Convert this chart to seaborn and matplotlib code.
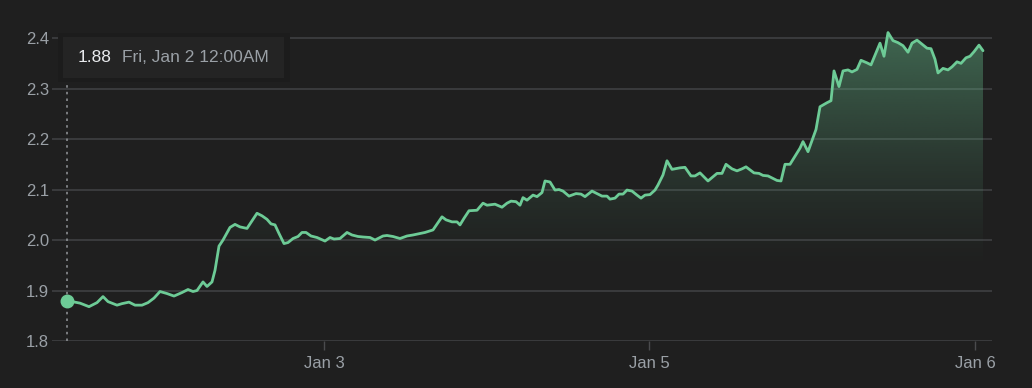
import numpy as np
import pandas as pd
import matplotlib
matplotlib.use("Agg")
import matplotlib.pyplot as plt
from matplotlib.patches import Rectangle
import seaborn as sns

# ---- data (x = sample position index along the session axis, y = price) ----
t_index = [0, 8, 13, 22, 30, 36, 41, 50, 55, 62, 68, 75, 81, 87, 93, 100, 107, 115, 121, 126, 130,
           136, 140, 145, 148, 152, 156, 163, 168, 173, 180, 190, 195, 200, 204, 208, 212, 217, 221,
           226, 231, 235, 239, 244, 250, 258, 263, 267, 273, 280, 285, 291, 296, 303, 308, 316, 320,
           326, 333, 340, 346, 353, 358, 363, 366, 375, 379, 385, 390, 393, 397, 402, 410, 416, 420,
           428, 435, 440, 444, 449, 453, 456, 460, 466, 470, 475, 478, 483, 488, 492, 496, 502, 509,
           514, 518, 525, 530, 535, 540, 543, 548, 552, 556, 560, 565, 570, 574, 578, 583, 588, 591,
           596, 600, 605, 610, 613, 618, 624, 628, 633, 641, 650, 655, 659, 665, 670, 675, 679, 683,
           687, 692, 696, 701, 706, 710, 714, 718, 723, 728, 733, 736, 741, 745, 749, 753, 760, 764,
           767, 772, 776, 781, 785, 790, 794, 800, 804, 813, 817, 821, 826, 831, 836, 841, 845, 850,
           855, 860, 864, 868, 871, 876, 881, 885, 890, 894, 899, 903, 907, 912, 916]
price = [1.880, 1.877, 1.875, 1.868, 1.876, 1.888, 1.878, 1.871, 1.874, 1.877, 1.871, 1.871, 1.876,
         1.885, 1.898, 1.894, 1.889, 1.896, 1.902, 1.898, 1.900, 1.917, 1.908, 1.917, 1.940, 1.988,
         2.000, 2.025, 2.031, 2.026, 2.023, 2.053, 2.048, 2.041, 2.032, 2.030, 2.013, 1.993, 1.995,
         2.003, 2.007, 2.015, 2.015, 2.008, 2.005, 1.998, 2.005, 2.002, 2.003, 2.015, 2.010, 2.007,
         2.006, 2.005, 2.000, 2.008, 2.009, 2.007, 2.003, 2.008, 2.010, 2.013, 2.015, 2.018, 2.020,
         2.046, 2.040, 2.036, 2.036, 2.030, 2.043, 2.058, 2.059, 2.073, 2.069, 2.071, 2.065, 2.073,
         2.077, 2.076, 2.069, 2.084, 2.079, 2.089, 2.086, 2.094, 2.117, 2.115, 2.099, 2.100, 2.097,
         2.087, 2.092, 2.091, 2.086, 2.097, 2.092, 2.087, 2.087, 2.081, 2.083, 2.091, 2.091, 2.099,
         2.097, 2.089, 2.083, 2.089, 2.090, 2.099, 2.109, 2.129, 2.157, 2.140, 2.142, 2.143, 2.144,
         2.127, 2.127, 2.133, 2.117, 2.132, 2.132, 2.150, 2.141, 2.137, 2.141, 2.145, 2.139, 2.133,
         2.132, 2.128, 2.127, 2.122, 2.118, 2.117, 2.150, 2.150, 2.166, 2.182, 2.195, 2.175, 2.197,
         2.219, 2.264, 2.272, 2.276, 2.335, 2.304, 2.335, 2.337, 2.333, 2.338, 2.356, 2.351, 2.347,
         2.390, 2.364, 2.411, 2.395, 2.391, 2.385, 2.372, 2.390, 2.396, 2.388, 2.380, 2.379, 2.358,
         2.331, 2.340, 2.337, 2.343, 2.353, 2.350, 2.361, 2.364, 2.373, 2.386, 2.375]
y_ticks = [1.8, 1.9, 2.0, 2.1, 2.2, 2.3, 2.4]
y_tick_labels = ["1.8", "1.9", "2.0", "2.1", "2.2", "2.3", "2.4"]
x_ticks = [257, 582, 908]
x_tick_labels = ["Jan 3", "Jan 5", "Jan 6"]
tooltip_value = "1.88"
tooltip_date = "Fri, Jan 2 12:00AM"
n = min(len(t_index), len(price))
df = pd.DataFrame({"t": t_index[:n], "price": price[:n]})

# ---- style ----
BG = "#1f1f1f"
GREEN = "#6dcb96"
GRID = "#3a3b3d"
LABEL = "#9aa0a6"

sns.set_theme(style="dark")
plt.rcParams["font.family"] = ["Liberation Sans", "DejaVu Sans"]

fig = plt.figure(figsize=(10.32, 3.88), dpi=100, facecolor=BG)
ax = fig.add_axes([52 / 1032, (388 - 341) / 388, (992 - 52) / 1032, (341 - 28) / 388])
ax.set_facecolor(BG)

xmin, xmax = -15, 925
ymin, ymax = 1.8, 2.42
ax.set_xlim(xmin, xmax)
ax.set_ylim(ymin, ymax)

# gradient fill below the line
poly = ax.fill_between(df["t"], df["price"], ymin, color="none", lw=0)
H = 300
vals = np.linspace(ymax, ymin, H)
alpha = np.clip((vals - 1.93) / (2.41 - 1.93), 0, 1) ** 1.4 * 0.42
rgba = np.zeros((H, 2, 4))
rgba[..., 0] = 0x6d / 255
rgba[..., 1] = 0xcb / 255
rgba[..., 2] = 0x96 / 255
rgba[..., 3] = alpha[:, None]
img = ax.imshow(rgba, extent=[df["t"].min(), df["t"].max(), ymin, ymax],
                aspect="auto", origin="upper", zorder=1.5, interpolation="bilinear")
path = poly.get_paths()[0]
img.set_clip_path(path, transform=ax.transData)

sns.lineplot(data=df, x="t", y="price", ax=ax, color=GREEN, linewidth=2.0, zorder=3)

# hover guide and point
ax.plot([df["t"].iloc[0]] * 2, [ymin, 2.321], color="#8a8d91", lw=1.2,
        linestyle=(0, (1.5, 2.5)), zorder=2)
ax.plot([df["t"].iloc[0]], [df["price"].iloc[0]], "o", color=GREEN, markersize=9, zorder=4)

# axes styling
for s in ax.spines.values():
    s.set_visible(False)
ax.set_yticks(y_ticks)
ax.set_yticklabels(y_tick_labels)
ax.set_xticks(x_ticks)
ax.set_xticklabels(x_tick_labels)
ax.grid(axis="y", color=GRID, linewidth=1.4)
ax.grid(axis="x", visible=False)
ax.tick_params(axis="y", length=0, pad=2, labelsize=12, labelcolor=LABEL)
ax.tick_params(axis="x", length=6.5, width=1, color="#4a4b4d", pad=4, labelsize=12,
               labelcolor=LABEL, bottom=True)
ax.set_xlabel("")
ax.set_ylabel("")

# tooltip
fig.add_artist(Rectangle((58 / 1032, (388 - 82) / 388), 232 / 1032, 49 / 388,
                         transform=fig.transFigure, facecolor="#1c1c1c", edgecolor="none", zorder=9))
fig.add_artist(Rectangle((63 / 1032, (388 - 78) / 388), 221 / 1032, 41 / 388,
                         transform=fig.transFigure, facecolor="#242424", edgecolor="none", zorder=10))
fig.text(78 / 1032, (388 - 57) / 388, tooltip_value, color="#e8eaed", fontsize=12.5,
         va="center", ha="left", zorder=11)
fig.text(122 / 1032, (388 - 57) / 388, tooltip_date, color=LABEL, fontsize=12.5,
         va="center", ha="left", zorder=11)

fig.savefig("out.png", dpi=100, facecolor=BG)
